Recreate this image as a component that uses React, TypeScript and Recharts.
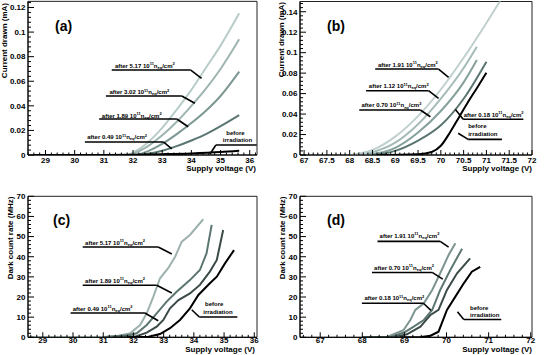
import React from 'react';
import { LineChart, Line, XAxis, YAxis, ReferenceLine, ReferenceDot, ReferenceArea } from 'recharts';

const FONT = "'Liberation Sans', Arial, Helvetica, sans-serif";

type Pt = [number, number];

// ---------------- Panel (a): current drawn vs supply voltage ----------------
const aBefore: Pt[] = [[28.6, 0], [30, 0], [31, 0.0001], [32, 0.0003], [33, 0.0007], [34, 0.0013], [35, 0.0024], [35.64, 0.0035]];
const a049: Pt[] = [[32.2, 0], [32.5, 0.001], [33, 0.0035], [33.5, 0.0072], [34, 0.0118], [34.5, 0.017], [35, 0.0235], [35.64, 0.0325]];
const a189: Pt[] = [[32.1, 0], [32.5, 0.003], [33, 0.009], [33.5, 0.017], [34, 0.026], [34.5, 0.036], [35, 0.048], [35.64, 0.0678]];
const a302: Pt[] = [[31.9, 0], [32.5, 0.007], [33, 0.016], [33.5, 0.027], [34, 0.04], [34.5, 0.054], [35, 0.07], [35.64, 0.0941]];
const a517: Pt[] = [[31.8, 0], [32, 0.002], [32.5, 0.01], [33, 0.022], [33.5, 0.037], [34, 0.053], [34.5, 0.071], [35, 0.089], [35.64, 0.1153]];
const aXMajor = [29, 30, 31, 32, 33, 34, 35, 36];
const aXLabels = ['29', '30', '31', '32', '33', '34', '35', '36'];
const aYMajor = [0, 0.02, 0.04, 0.06, 0.08, 0.1, 0.12];
const aYLabels = ['0', '0.02', '0.04', '0.06', '0.08', '0.1', '0.12'];

// ---------------- Panel (b) ----------------
const bBefore: Pt[] = [[68.6, 0], [69.5, 0.0008], [69.8, 0.003], [70, 0.009], [70.2, 0.022], [70.4, 0.037], [70.6, 0.052], [70.8, 0.066], [71, 0.0804]];
const b018: Pt[] = [[68.5, 0], [69, 0.004], [69.5, 0.014], [70, 0.029], [70.5, 0.055], [71, 0.0912]];
const b070: Pt[] = [[68.4, 0], [69, 0.007], [69.5, 0.022], [70, 0.043], [70.5, 0.071], [70.79, 0.0928]];
const b112: Pt[] = [[68.3, 0], [69, 0.012], [69.5, 0.03], [70, 0.055], [70.5, 0.085], [70.79, 0.1058]];
const b191: Pt[] = [[68.0, 0], [68.5, 0.005], [69, 0.018], [69.5, 0.038], [70, 0.064], [70.5, 0.095], [71, 0.129], [71.32, 0.152]];
const bXMajor = [67, 67.5, 68, 68.5, 69, 69.5, 70, 70.5, 71, 71.5, 72];
const bXLabels = ['67', '67.5', '68', '68.5', '69', '69.5', '70', '70.5', '71', '71.5', '72'];
const bYMajor = [0, 0.02, 0.04, 0.06, 0.08, 0.1, 0.12, 0.14];
const bYLabels = ['0', '0.02', '0.04', '0.06', '0.08', '0.1', '0.12', '0.14'];

// ---------------- Panel (c): dark count rate ----------------
const cBefore: Pt[] = [[31.8, 0], [32.5, 0.3], [32.88, 1.6], [33.21, 4.5], [33.54, 8.6], [33.87, 14.4], [34.15, 21.0], [34.53, 26.8], [34.76, 30.1], [35.03, 36.7], [35.33, 43.3]];
const c049: Pt[] = [[31.3, 0], [32.1, 0.5], [32.44, 2.3], [32.77, 5.3], [32.99, 8.6], [33.21, 14.4], [33.49, 18.5], [33.87, 21.8], [34.2, 26.0], [34.53, 32.6], [34.76, 38.4], [34.97, 53.3]];
const c189: Pt[] = [[31.0, 0], [31.8, 1], [32.11, 2], [32.44, 6.1], [32.77, 11.9], [33.1, 17.7], [33.43, 22.6], [33.87, 28.4], [34.2, 33.4], [34.42, 41.7], [34.59, 55.8]];
const c517: Pt[] = [[28.51, 0], [31, 0.2], [31.5, 0.8], [31.89, 2.0], [32.22, 6.1], [32.44, 11.9], [32.66, 20.2], [32.88, 29.3], [33.15, 34.3], [33.38, 40.0], [33.6, 47.5], [33.87, 50.8], [34.31, 58.6]];
const cXMajor = [29, 30, 31, 32, 33, 34, 35, 36];
const cXLabels = ['29', '30', '31', '32', '33', '34', '35', '36'];
const cYMajor = [0, 10, 20, 30, 40, 50, 60, 70];
const cYLabels = ['0', '10', '20', '30', '40', '50', '60', '70'];

// ---------------- Panel (d) ----------------
const dBefore: Pt[] = [[68.9, 0], [69.4, 0.2], [69.62, 0.8], [69.81, 2.8], [70.01, 13.6], [70.21, 20.2], [70.41, 26.8], [70.6, 32.6], [70.8, 35.0]];
const d018: Pt[] = [[68.0, 0], [68.8, 0.3], [69.06, 1.5], [69.38, 5.3], [69.62, 11.1], [69.81, 13.6], [70.01, 23.5], [70.25, 31.8], [70.56, 39.2]];
const d070: Pt[] = [[68.0, 0], [68.7, 0.3], [69.0, 2.5], [69.22, 5.3], [69.46, 8.6], [69.66, 13.6], [69.85, 23.5], [70.09, 33.4], [70.37, 44.0]];
const d191: Pt[] = [[68.0, 0], [68.6, 0.3], [68.98, 3.6], [69.14, 8.6], [69.26, 13.6], [69.46, 16.9], [69.66, 23.5], [69.85, 31.8], [70.05, 40.9], [70.21, 46.7]];
const dXMajor = [67, 68, 69, 70, 71, 72];
const dXLabels = ['67', '68', '69', '70', '71', '72'];
const dYMajor = cYMajor;
const dYLabels = cYLabels;

// ---------------- Annotations (data coordinates) ----------------
type Ann = { dose: string; exp: string; tx: number; ty: number; pts: Pt[] };
type Before = { bx: number; by: number; ix: number; iy: number; pts: Pt[] };

const annA: Ann[] = [
  { dose: '5.17', exp: '11', tx: 31.38, ty: 0.071, pts: [[31.27, 0.0691], [33.98, 0.0691], [34.35, 0.0624]] },
  { dose: '3.02', exp: '11', tx: 31.19, ty: 0.0494, pts: [[31.07, 0.048], [33.67, 0.048], [34.12, 0.0421]] },
  { dose: '1.89', exp: '11', tx: 30.93, ty: 0.0303, pts: [[30.84, 0.0293], [33.5, 0.0293], [33.89, 0.023]] },
  { dose: '0.49', exp: '11', tx: 30.43, ty: 0.013, pts: [[30.35, 0.0106], [33.04, 0.0106], [33.33, 0.0049]] },
];
const beforeA: Before = { bx: 35.2, by: 0.0163, ix: 35.08, iy: 0.0106, pts: [[34.64, 0.0008], [34.84, 0.0081], [36.24, 0.0081]] };

const annB: Ann[] = [
  { dose: '1.91', exp: '11', tx: 68.62, ty: 0.0863, pts: [[68.56, 0.084], [69.95, 0.084], [70.17, 0.0759]] },
  { dose: '1.12', exp: '11', tx: 68.42, ty: 0.0652, pts: [[68.36, 0.0628], [69.73, 0.0628], [69.95, 0.0554]] },
  { dose: '0.70', exp: '11', tx: 68.26, ty: 0.0466, pts: [[68.21, 0.044], [69.55, 0.044], [69.77, 0.0374]] },
  { dose: '0.18', exp: '11', tx: 70.5, ty: 0.0374, pts: [[71.81, 0.0349], [70.49, 0.0349], [70.32, 0.0445]] },
];
const beforeB: Before = { bx: 70.6, by: 0.0261, ix: 70.6, iy: 0.0186, pts: [[70.38, 0.0212], [70.6, 0.0153], [71.34, 0.0153]] };

const annC: Ann[] = [
  { dose: '5.17', exp: '11', tx: 30.4, ty: 45.97, pts: [[30.32, 44.83], [32.82, 44.83], [33.27, 41.36]] },
  { dose: '1.89', exp: '11', tx: 30.4, ty: 26.96, pts: [[30.32, 25.82], [32.77, 25.82], [33.27, 22.0]] },
  { dose: '0.49', exp: '11', tx: 29.99, ty: 13.2, pts: [[29.92, 12.07], [32.38, 12.07], [32.82, 8.24]] },
];
const beforeC: Before = { bx: 34.37, by: 15.4, ix: 34.31, iy: 11.7, pts: [[33.93, 13.7], [34.18, 10.07], [35.44, 10.07]] };

const annD: Ann[] = [
  { dose: '1.91', exp: '11', tx: 68.41, ty: 49.3, pts: [[68.36, 47.6], [69.85, 47.6], [70.05, 44.8]] },
  { dose: '0.70', exp: '11', tx: 68.28, ty: 33.6, pts: [[68.23, 32.2], [69.66, 32.2], [69.91, 28.9]] },
  { dose: '0.18', exp: '11', tx: 68.05, ty: 18.4, pts: [[67.99, 16.9], [69.45, 16.9], [69.63, 13.4]] },
];
const beforeD: Before = { bx: 70.56, by: 13.55, ix: 70.56, iy: 9.93, pts: [[70.26, 12.7], [70.41, 8.84], [71.3, 8.84]] };

// ---------------- helpers ----------------
function toData(p: Pt[]) {
  return p.map(([x, y]) => ({ x, y }));
}

function fineTicks(lo: number, hi: number, step: number) {
  const out: number[] = [];
  const s = Math.ceil(lo / step - 1e-9);
  const e = Math.floor(hi / step + 1e-9);
  for (let k = s; k <= e; k++) out.push(+(k * step).toFixed(6));
  return out;
}

function xTickFactory(majors: number[], labels: string[], labelDy: number) {
  return (props: any) => {
    const { x, y, payload } = props;
    const i = majors.findIndex((m) => Math.abs(m - payload.value) < 1e-6);
    return (
      <g>
        <line x1={x} x2={x} y1={y} y2={y - (i >= 0 ? 5 : 2.5)} stroke="#000" strokeWidth={1} />
        {i >= 0 && (
          <text x={x} y={y + labelDy} textAnchor="middle" fontSize={8} fontWeight="bold" fontFamily={FONT} fill="#000">
            {labels[i]}
          </text>
        )}
      </g>
    );
  };
}

function yTickFactory(majors: number[], labels: string[]) {
  return (props: any) => {
    const { x, y, payload } = props;
    const i = majors.findIndex((m) => Math.abs(m - payload.value) < 1e-9);
    return (
      <g>
        <line x1={x} x2={x + (i >= 0 ? 6 : 3)} y1={y} y2={y} stroke="#000" strokeWidth={1} />
        {i >= 0 && (
          <text x={x - 2.5} y={y + 2.8} textAnchor="end" fontSize={8} fontWeight="bold" fontFamily={FONT} fill="#000">
            {labels[i]}
          </text>
        )}
      </g>
    );
  };
}

const doseShape = (dose: string, exp: string) => (props: any) => (
  <text x={props.cx} y={props.cy} fontSize={6} fontWeight="bold" fontFamily={FONT} fill="#000">
    {`after ${dose} 10`}
    <tspan fontSize={4} dy={-2.5}>{exp}</tspan>
    <tspan dy={2.5}>n</tspan>
    <tspan fontSize={4} dy={1.2}>eq</tspan>
    <tspan dy={-1.2}>/cm</tspan>
    <tspan fontSize={4} dy={-2.5}>2</tspan>
  </text>
);

const wordShape = (w: string) => (props: any) => (
  <text x={props.cx} y={props.cy} fontSize={6} fontWeight="bold" fontFamily={FONT} fill="#000">
    {w}
  </text>
);

type SeriesCfg = { data: Pt[]; color: string };
type PanelCfg = {
  left: number; top: number; width: number; height: number;
  margin: { top: number; right: number; bottom: number; left: number };
  xAxisHeight: number; labelDy: number;
  xDomain: [number, number]; yDomain: [number, number];
  xMajor: number[]; xLabels: string[]; xMinor: number;
  yMajor: number[]; yLabels: string[]; yMinor: number;
  curve: 'monotone' | 'linear';
  series: SeriesCfg[];
  anns: Ann[]; before: Before;
};

function seg(a: Pt, b: Pt, key: string) {
  return (
    <ReferenceLine
      key={key}
      segment={[{ x: a[0], y: a[1] }, { x: b[0], y: b[1] }]}
      stroke="#000"
      strokeWidth={1.6}
      ifOverflow="visible"
    />
  );
}

function Panel({ p }: { p: PanelCfg }) {
  const xTicks = fineTicks(p.xDomain[0], p.xDomain[1], p.xMinor);
  const yTicks = fineTicks(p.yDomain[0], p.yDomain[1], p.yMinor);
  const annEls: React.ReactNode[] = [];
  p.anns.forEach((a, i) => {
    annEls.push(seg(a.pts[0], a.pts[1], `u${i}`));
    annEls.push(seg(a.pts[1], a.pts[2], `d${i}`));
    annEls.push(
      <ReferenceDot key={`t${i}`} x={a.tx} y={a.ty} r={1} ifOverflow="visible" shape={doseShape(a.dose, a.exp)} />
    );
  });
  const b = p.before;
  annEls.push(seg(b.pts[0], b.pts[1], 'bd'));
  annEls.push(seg(b.pts[1], b.pts[2], 'bu'));
  annEls.push(<ReferenceDot key="bw1" x={b.bx} y={b.by} r={1} ifOverflow="visible" shape={wordShape('before')} />);
  annEls.push(<ReferenceDot key="bw2" x={b.ix} y={b.iy} r={1} ifOverflow="visible" shape={wordShape('irradiation')} />);

  return (
    <div style={{ position: 'absolute', left: p.left, top: p.top, width: p.width, height: p.height }}>
      <LineChart width={p.width} height={p.height} margin={p.margin}>
        <XAxis
          type="number"
          dataKey="x"
          domain={p.xDomain}
          allowDataOverflow
          ticks={xTicks}
          interval={0}
          tickLine={false}
          tickSize={0}
          tickMargin={0}
          height={p.xAxisHeight}
          axisLine={{ stroke: '#000', strokeWidth: 1 }}
          tick={xTickFactory(p.xMajor, p.xLabels, p.labelDy)}
        />
        <YAxis
          type="number"
          domain={p.yDomain}
          allowDataOverflow
          ticks={yTicks}
          interval={0}
          tickLine={false}
          tickSize={0}
          tickMargin={0}
          width={28}
          axisLine={{ stroke: '#000', strokeWidth: 1 }}
          tick={yTickFactory(p.yMajor, p.yLabels)}
        />
        <ReferenceArea
          x1={p.xDomain[0]}
          x2={p.xDomain[1]}
          y1={p.yDomain[0]}
          y2={p.yDomain[1]}
          fill="none"
          fillOpacity={0}
          stroke="#222"
          strokeWidth={1}
          ifOverflow="visible"
        />
        {p.series.map((s, i) => (
          <Line
            key={i}
            data={toData(s.data)}
            dataKey="y"
            type={p.curve}
            stroke={s.color}
            strokeWidth={2}
            dot={false}
            activeDot={false}
            isAnimationActive={false}
          />
        ))}
        {annEls}
      </LineChart>
    </div>
  );
}

const panels: PanelCfg[] = [
  {
    left: 0, top: 0, width: 272, height: 178,
    margin: { top: 1.35, right: 15, bottom: 0, left: 0 }, xAxisHeight: 23, labelDy: 7.5,
    xDomain: [28.4, 36.25], yDomain: [0, 0.125],
    xMajor: aXMajor, xLabels: aXLabels, xMinor: 0.2,
    yMajor: aYMajor, yLabels: aYLabels, yMinor: 0.004,
    curve: 'monotone',
    series: [
      { data: a517, color: '#b8ccca' },
      { data: a302, color: '#9db4b1' },
      { data: a189, color: '#7d9894' },
      { data: a049, color: '#5b7672' },
      { data: aBefore, color: '#000000' },
    ],
    anns: annA, before: beforeA,
  },
  {
    left: 272, top: 0, width: 273, height: 178,
    margin: { top: 1.5, right: 13, bottom: 0, left: 0 }, xAxisHeight: 23, labelDy: 7.5,
    xDomain: [66.91, 72.0], yDomain: [0, 0.15],
    xMajor: bXMajor, xLabels: bXLabels, xMinor: 0.1,
    yMajor: bYMajor, yLabels: bYLabels, yMinor: 0.004,
    curve: 'monotone',
    series: [
      { data: b191, color: '#bfd0ce' },
      { data: b112, color: '#a5bbb8' },
      { data: b070, color: '#86a09c' },
      { data: b018, color: '#5b7672' },
      { data: bBefore, color: '#000000' },
    ],
    anns: annB, before: beforeB,
  },
  {
    left: 0, top: 178, width: 272, height: 177,
    margin: { top: 18.3, right: 15, bottom: 0, left: 0 }, xAxisHeight: 17.7, labelDy: 6,
    xDomain: [28.51, 36.09], yDomain: [0, 70],
    xMajor: cXMajor, xLabels: cXLabels, xMinor: 0.2,
    yMajor: cYMajor, yLabels: cYLabels, yMinor: 2,
    curve: 'linear',
    series: [
      { data: c517, color: '#9db1ae' },
      { data: c189, color: '#5b7571' },
      { data: c049, color: '#3b4a48' },
      { data: cBefore, color: '#000000' },
    ],
    anns: annC, before: beforeC,
  },
  {
    left: 272, top: 178, width: 273, height: 177,
    margin: { top: 18.3, right: 13, bottom: 0, left: 0 }, xAxisHeight: 17.7, labelDy: 6,
    xDomain: [66.52, 72.03], yDomain: [0, 70],
    xMajor: dXMajor, xLabels: dXLabels, xMinor: 0.2,
    yMajor: dYMajor, yLabels: dYLabels, yMinor: 2,
    curve: 'linear',
    series: [
      { data: d191, color: '#7b9490' },
      { data: d070, color: '#5d7773' },
      { data: d018, color: '#3b4a48' },
      { data: dBefore, color: '#000000' },
    ],
    anns: annD, before: beforeD,
  },
];

const xTitles = [
  { x: 256, y: 171 },
  { x: 532, y: 171 },
  { x: 255, y: 352 },
  { x: 532, y: 352 },
];
const yTitles = [
  { x: 7.3, y: 3, t: 'Current drawn (mA)' },
  { x: 283.5, y: 2, t: 'Current drawn (mA)' },
  { x: 13, y: 196.5, t: 'Dark count rate (MHz)' },
  { x: 284.5, y: 196.5, t: 'Dark count rate (MHz)' },
];
const letters = [
  { x: 55, y: 30.5, t: '(a)' },
  { x: 327, y: 30.5, t: '(b)' },
  { x: 53, y: 224.5, t: '(c)' },
  { x: 327, y: 224.5, t: '(d)' },
];

export default function App() {
  return (
    <div style={{ position: 'absolute', left: 0, top: 0, width: 545, height: 355, background: '#fff', overflow: 'hidden' }}>
      {panels.map((p, i) => (
        <Panel key={i} p={p} />
      ))}
      <svg width={545} height={355} style={{ position: 'absolute', left: 0, top: 0, pointerEvents: 'none' }}>
        {xTitles.map((t, i) => (
          <text key={`xt${i}`} x={t.x} y={t.y} textAnchor="end" fontSize={8} fontWeight="bold" fontFamily={FONT} fill="#000">
            Supply voltage (V)
          </text>
        ))}
        {yTitles.map((t, i) => (
          <text
            key={`yt${i}`}
            transform={`translate(${t.x},${t.y}) rotate(-90)`}
            textAnchor="end"
            fontSize={8}
            fontWeight="bold"
            fontFamily={FONT}
            fill="#000"
          >
            {t.t}
          </text>
        ))}
        {letters.map((t, i) => (
          <text key={`l${i}`} x={t.x} y={t.y} fontSize={14} fontWeight="bold" fontFamily={FONT} fill="#000">
            {t.t}
          </text>
        ))}
      </svg>
    </div>
  );
}
